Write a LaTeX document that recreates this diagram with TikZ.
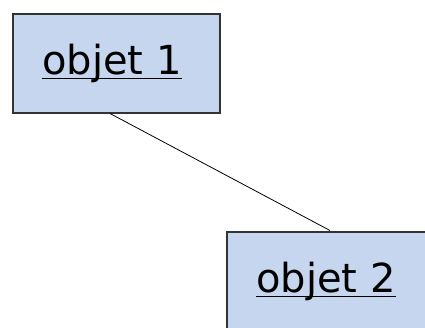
\documentclass[tikz,border=0pt]{standalone}
\usepackage{fontspec}
\setmainfont{DejaVu Sans}
\usetikzlibrary{positioning}
\definecolor{objfill}{RGB}{197,214,238}
\newcommand{\objul}[1]{\setbox0\hbox{#1}\raisebox{3pt}{\rlap{\rule[-0.13em]{\wd0}{1.3pt}}\box0}\hspace*{8pt}}
\tikzset{objet/.style={draw=black!80,line width=2pt,fill=objfill,minimum width=207pt,minimum height=99pt,inner sep=0pt,font=\fontsize{40}{44}\selectfont}}
\begin{document}
\begin{tikzpicture}
\useasboundingbox (0,0) rectangle (425pt,-327pt);
\node(O1)[objet] at (116pt,-63pt){\objul{objet 1}};
\node[below right=117pt and 5pt of O1,objet](O2){\objul{objet 2}};
\draw[line width=0.8pt] ([xshift=-6pt]O1.south) -- (O2.north);
\end{tikzpicture}
\end{document}
